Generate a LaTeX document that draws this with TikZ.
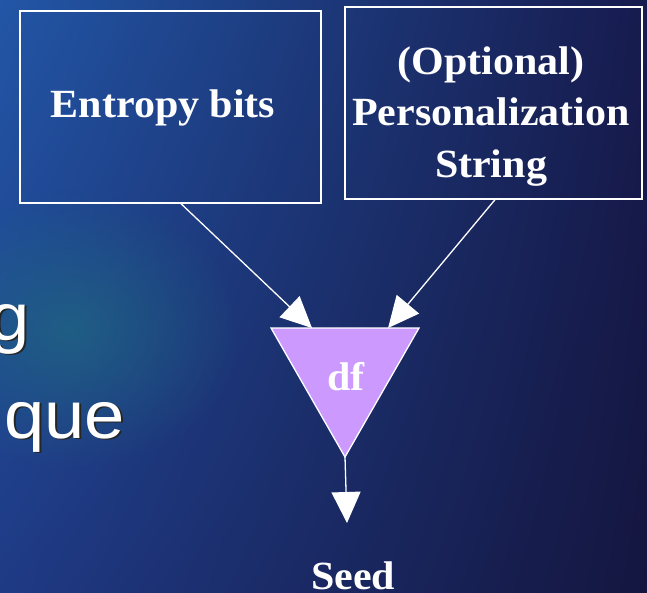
\documentclass[tikz,border=0pt]{standalone}
\usepackage{fontspec}
\setmainfont{Liberation Serif}
\newfontfamily\serifw[FakeStretch=1.05]{Liberation Serif}
\newfontfamily\leftsans[FakeStretch=1.08]{Liberation Sans}
\usetikzlibrary{arrows.meta,calc,fadings,shadings}
\definecolor{bgUL}{RGB}{34,86,166}
\definecolor{bgUR}{RGB}{23,27,78}
\definecolor{bgLL}{RGB}{31,58,133}
\definecolor{bgLR}{RGB}{20,22,63}
\definecolor{glow}{RGB}{31,106,130}
\definecolor{lilac}{RGB}{204,153,255}
\tikzfading[name=softglow, inner color=transparent!0, outer color=transparent!100]
\tikzset{
  box/.style={draw=white, line width=1.4pt, inner sep=0pt},
  lbl/.style={text=white, font=\serifw\bfseries\fontsize{40}{51.5}\selectfont, inner sep=0pt, anchor=base},
  conn/.style={draw=white, line width=1.3pt, -{Triangle[length=31pt,width=29pt]}},
  slide/.style={text=white, font=\leftsans\fontsize{67}{80}\selectfont, inner sep=0pt, anchor=base west},
  shadowtxt/.style={slide, text=black!85}
}
\begin{document}
\begin{tikzpicture}[x=1pt,y=-1pt]
\useasboundingbox (0,0) rectangle (647,592);
\shade[upper left=bgUL, upper right=bgUR, lower left=bgLL, lower right=bgLR] (0,0) rectangle (647,592);
\fill[glow, path fading=softglow, opacity=0.7] (70,330) ellipse (170 and 140);
% left slide text (cut off)
\node[shadowtxt] at (-9,341.8) {g};
\node[slide] (g) at (-11,340) {g};
\node[shadowtxt] at (6,439.8) {que};
\node[slide] (que) at (4,438) {que};
% boxes
\node[box, minimum width=301pt, minimum height=192pt] (box1) at (170.5,107) {};
\node[box, minimum width=297pt, minimum height=192pt] (box2) at (493.5,103) {};
\node[lbl] (ent) at (163,117) {Entropy bits};
\node[lbl] (opt) at (491,74) {(Optional)};
\node[lbl] (pers) at (491,125) {Personalization};
\node[lbl] (str) at (491,177) {String};
% triangle
\coordinate (tl) at (271,328);
\coordinate (tr) at (419,328);
\coordinate (tb) at (345,457);
\fill[lilac, draw=white, line width=1.3pt, line join=miter] (tl) -- (tr) -- (tb) -- cycle;
\node[lbl] (df) at (346,390) {df};
\node[lbl] (seed) at (353,589) {Seed};
\coordinate (seedtip) at (347,523);
% connectors
\draw[conn] ($(box1.south)+(10.5,0)$) -- ($(tl)!0.277!(tr)$);
\draw[conn] ($(box2.south)+(1.5,0)$) -- ($(tl)!0.791!(tr)$);
\draw[conn] (tb) -- (seedtip);
\end{tikzpicture}
\end{document}
